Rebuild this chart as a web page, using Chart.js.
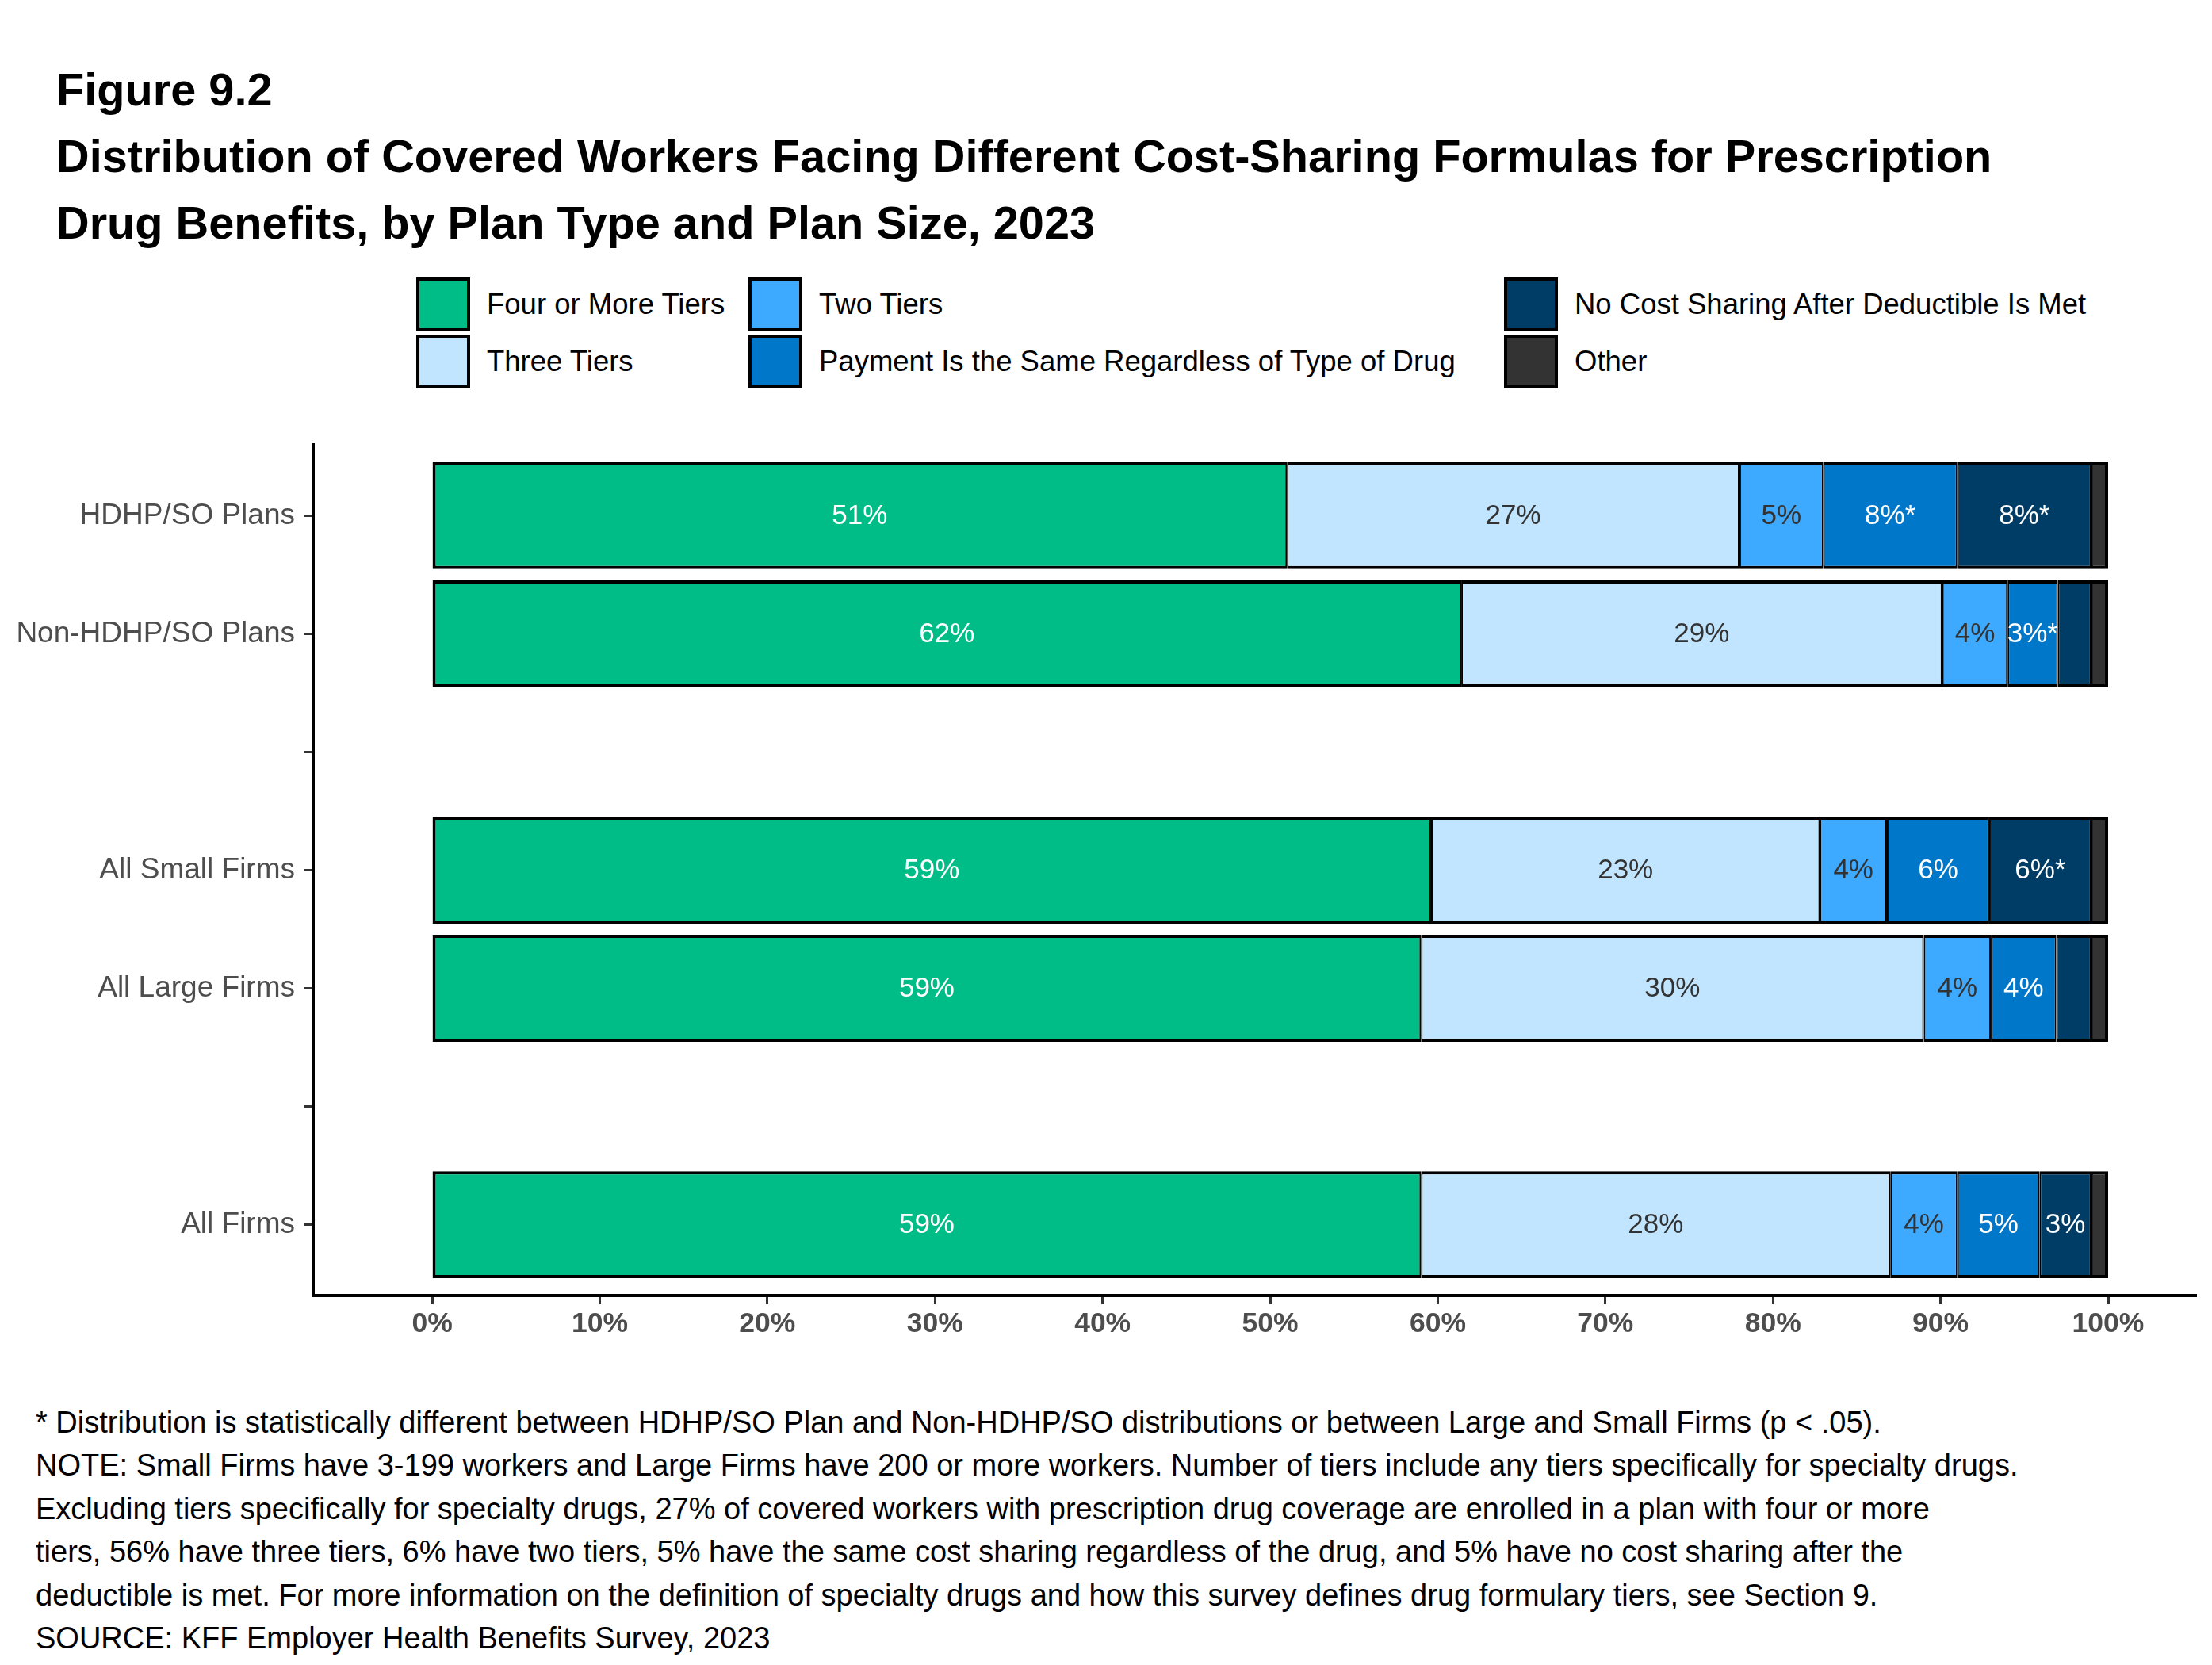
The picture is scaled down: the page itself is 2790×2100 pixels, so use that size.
<!DOCTYPE html>
<html>
<head>
<meta charset="utf-8">
<title>Figure 9.2</title>
<script src="https://cdn.jsdelivr.net/npm/chart.js@4.4.1/dist/chart.umd.min.js"></script>
<style>
  html, body {
    margin: 0;
    padding: 0;
    background: #ffffff;
  }
  body {
    position: relative;
    width: 2790px;
    height: 2100px;
    overflow: hidden;
    font-family: "Liberation Sans", Arial, sans-serif;
  }
  #title {
    position: absolute;
    left: 71px;
    top: 71px;
    font-size: 57.7px;
    font-weight: bold;
    line-height: 84px;
    color: #000;
    white-space: nowrap;
  }
  #legend .item {
    position: absolute;
    display: flex;
    align-items: center;
    height: 68px;
    white-space: nowrap;
  }
  #legend .box {
    width: 68px;
    height: 68px;
    box-sizing: border-box;
    border: 4px solid #000;
    margin-right: 21px;
  }
  #legend .text {
    font-size: 36.5px;
    color: #000;
  }
  #chart {
    position: absolute;
    left: 0;
    top: 540px;
  }
  #notes {
    position: absolute;
    left: 45px;
    top: 1767px;
    font-size: 38px;
    line-height: 54.4px;
    color: #000;
    white-space: nowrap;
  }
</style>
</head>
<body>
<div id="title">Figure 9.2<br>Distribution of Covered Workers Facing Different Cost-Sharing Formulas for Prescription<br>Drug Benefits, by Plan Type and Plan Size, 2023</div>
<div id="legend"></div>
<canvas id="chart" width="2790" height="1180"></canvas>
<div id="notes">* Distribution is statistically different between HDHP/SO Plan and Non-HDHP/SO distributions or between Large and Small Firms (p &lt; .05).<br>NOTE: Small Firms have 3-199 workers and Large Firms have 200 or more workers. Number of tiers include any tiers specifically for specialty drugs.<br>Excluding tiers specifically for specialty drugs, 27% of covered workers with prescription drug coverage are enrolled in a plan with four or more<br>tiers, 56% have three tiers, 6% have two tiers, 5% have the same cost sharing regardless of the drug, and 5% have no cost sharing after the<br>deductible is met. For more information on the definition of specialty drugs and how this survey defines drug formulary tiers, see Section 9.<br>SOURCE: KFF Employer Health Benefits Survey, 2023</div>

<script>
// rows of the y axis, blank strings are the spacer rows between groups
const rowNames = ["HDHP/SO Plans", "Non-HDHP/SO Plans", "", "All Small Firms", "All Large Firms", "", "All Firms"];
const groups = ["HDHP/SO Plans", "Non-HDHP/SO Plans", "All Small Firms", "All Large Firms", "All Firms"];

const seriesNames = [
  "Four or More Tiers",
  "Three Tiers",
  "Two Tiers",
  "Payment Is the Same Regardless of Type of Drug",
  "No Cost Sharing After Deductible Is Met",
  "Other",
];

// values (share of covered workers, %), one per group
const fourOrMore = [51, 61.4, 59.6, 59, 59];
const threeTiers = [27, 28.7, 23.2, 30, 28];
const twoTiers = [5, 3.9, 4, 4, 4];
const samePayment = [8, 3, 6.1, 3.9, 4.9];
const noCostSharing = [8, 2, 6.1, 2.1, 3.1];
const other = [1, 1, 1, 1, 1];

// printed labels
const fourOrMoreLabels = ["51%", "62%", "59%", "59%", "59%"];
const threeTiersLabels = ["27%", "29%", "23%", "30%", "28%"];
const twoTiersLabels = ["5%", "4%", "4%", "4%", "4%"];
const samePaymentLabels = ["8%*", "3%*", "6%", "4%", "5%"];
const noCostSharingLabels = ["8%*", "", "6%*", "", "3%"];
const otherLabels = ["", "", "", "", ""];

const xTicks = [0, 10, 20, 30, 40, 50, 60, 70, 80, 90, 100];

const FONT = "'Liberation Sans', Arial, sans-serif";
const colors = ["#00BC87", "#C2E5FF", "#3DA9FF", "#0077C8", "#003D66", "#333333"];
const labelColors = ["#ffffff", "#333333", "#333333", "#ffffff", "#ffffff", "#ffffff"];

const seriesValues = [fourOrMore, threeTiers, twoTiers, samePayment, noCostSharing, other];
const seriesLabels = [fourOrMoreLabels, threeTiersLabels, twoTiersLabels, samePaymentLabels, noCostSharingLabels, otherLabels];

const rowPos = groups.map((g) => rowNames.indexOf(g));

const datasets = seriesNames.map((name, i) => ({
  label: name,
  data: seriesValues[i].map((v, j) => ({ x: v, y: rowPos[j] })),
  valueLabels: seriesLabels[i],
  labelColor: labelColors[i],
  backgroundColor: colors[i],
  borderColor: "#000000",
  borderWidth: {
    top: 4,
    bottom: 4,
    left: i === 0 ? 4 : 2,
    right: i === seriesNames.length - 1 ? 4 : 2,
  },
  borderSkipped: false,
  stack: "all",
  categoryPercentage: 0.905,
  barPercentage: 1,
}));

// writes the segment labels in the middle of each piece
const barLabels = {
  id: "barLabels",
  afterDatasetsDraw(chart) {
    const { ctx } = chart;
    ctx.save();
    ctx.font = `35px ${FONT}`;
    ctx.textAlign = "center";
    ctx.textBaseline = "middle";
    chart.data.datasets.forEach((ds, i) => {
      const meta = chart.getDatasetMeta(i);
      meta.data.forEach((bar, j) => {
        const text = ds.valueLabels[j];
        if (!text) return;
        ctx.fillStyle = ds.labelColor;
        ctx.fillText(text, (bar.x + bar.base) / 2, bar.y + 1);
      });
    });
    ctx.restore();
  },
};

const chartContext = document.getElementById("chart").getContext("2d");

const chart = new Chart(chartContext, {
  type: "bar",
  data: { datasets },
  plugins: [barLabels],
  options: {
    indexAxis: "y",
    responsive: false,
    animation: false,
    devicePixelRatio: 1,
    layout: {
      padding: { top: 21, right: 20, left: 0, bottom: 0 },
    },
    plugins: {
      legend: { display: false },
      title: { display: false },
      tooltip: { enabled: false },
    },
    scales: {
      x: {
        type: "linear",
        stacked: true,
        min: -7.1,
        max: 105.25,
        afterBuildTicks: (axis) => {
          axis.ticks = xTicks.map((v) => ({ value: v }));
        },
        afterFit: (axis) => {
          axis.height = 86;
          axis.paddingLeft = 0;
          axis.paddingRight = 0;
        },
        ticks: {
          callback: (value) => `${value}%`,
          color: "#4d4d4d",
          padding: 4,
          autoSkip: false,
          maxRotation: 0,
          font: { family: FONT, size: 35.5, weight: "bold" },
        },
        grid: {
          drawOnChartArea: false,
          drawTicks: true,
          tickLength: 11,
          tickWidth: 3,
          tickColor: "#333333",
        },
        border: { display: true, color: "#000000", width: 4 },
      },
      y: {
        type: "linear",
        reverse: true,
        offset: false,
        min: -0.6,
        max: 6.6,
        afterBuildTicks: (axis) => {
          axis.ticks = rowNames.map((_, i) => ({ value: i }));
        },
        afterFit: (axis) => {
          axis.width = 395;
          axis.paddingTop = 0;
          axis.paddingBottom = 0;
        },
        ticks: {
          callback: (value) => rowNames[value] || "",
          color: "#4d4d4d",
          padding: 12,
          autoSkip: false,
          font: { family: FONT, size: 37 },
        },
        grid: {
          offset: false,
          drawOnChartArea: false,
          drawTicks: true,
          tickLength: 11,
          tickWidth: 3,
          tickColor: "#333333",
        },
        border: { display: true, color: "#000000", width: 4 },
      },
    },
  },
});

// legend in three columns, filled top to bottom
const legendCols = [525, 944, 1897];
const legendRows = [350, 422];
const legend = document.getElementById("legend");
chart.data.datasets.forEach((ds, i) => {
  const item = document.createElement("div");
  item.className = "item";
  item.style.left = legendCols[Math.floor(i / 2)] + "px";
  item.style.top = legendRows[i % 2] + "px";
  const box = document.createElement("div");
  box.className = "box";
  box.style.background = ds.backgroundColor;
  const text = document.createElement("span");
  text.className = "text";
  text.textContent = ds.label;
  item.appendChild(box);
  item.appendChild(text);
  legend.appendChild(item);
});
</script>
</body>
</html>
